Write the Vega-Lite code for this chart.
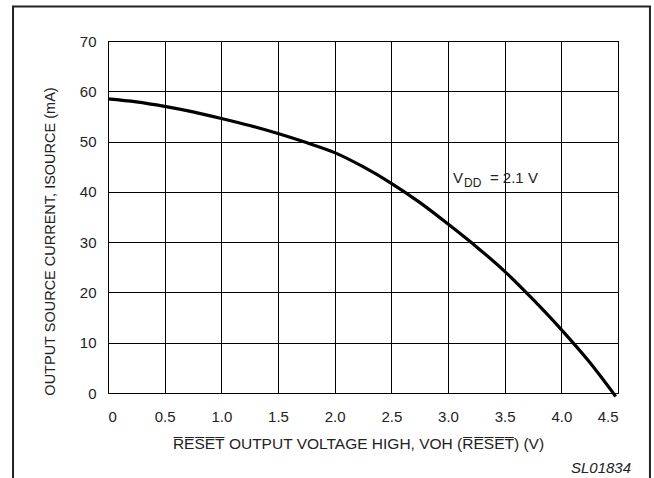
{
  "$schema": "https://vega.github.io/schema/vega-lite/v6.json",
  "autosize": {"type": "none"},
  "width": 510,
  "height": 352,
  "padding": {"left": 108, "top": 41, "right": 36, "bottom": 85},
  "background": "white",
  "config": {
    "font": "Liberation Sans",
    "view": {"stroke": "black", "strokeWidth": 1},
    "axis": {
      "gridColor": "black", "gridOpacity": 1, "gridWidth": 1,
      "domain": false, "ticks": false,
      "labelFont": "Liberation Sans", "labelFontSize": 15, "labelColor": "#222",
      "titleFont": "Liberation Sans", "titleFontSize": 15, "titleFontWeight": "normal", "titleColor": "#222"
    }
  },
  "datasets": {
    "curve": [
      {"v": 0.0, "i": 58.5},
      {"v": 0.25, "i": 57.9},
      {"v": 0.5, "i": 57.0},
      {"v": 0.75, "i": 55.9},
      {"v": 1.0, "i": 54.6},
      {"v": 1.25, "i": 53.2},
      {"v": 1.5, "i": 51.6},
      {"v": 1.75, "i": 49.8},
      {"v": 2.0, "i": 47.8},
      {"v": 2.25, "i": 45.0},
      {"v": 2.5, "i": 41.7},
      {"v": 2.75, "i": 37.9},
      {"v": 3.0, "i": 33.6},
      {"v": 3.25, "i": 29.1},
      {"v": 3.5, "i": 24.2},
      {"v": 3.75, "i": 18.6},
      {"v": 4.0, "i": 12.6},
      {"v": 4.25, "i": 6.1},
      {"v": 4.48, "i": -0.7}
    ],
    "labels": [
      {"v": 3.044, "i": 42.75, "t": "V", "part": "main"},
      {"v": 3.141, "i": 41.76, "t": "DD", "part": "sub"},
      {"v": 3.37, "i": 42.75, "t": "= 2.1 V", "part": "main"}
    ],
    "code": [{"v": 4.615, "i": -14.9, "t": "SL01834"}],
    "frame": [{"x1": -0.838, "x2": 4.782, "y1": 76.86, "y2": -20}]
  },
  "layer": [
    {
      "data": {"name": "frame"},
      "mark": {"type": "rect", "fill": null, "stroke": "#222", "strokeWidth": 2, "clip": false},
      "encoding": {
        "x": {"field": "x1", "type": "quantitative", "scale": {"domain": [0, 4.5], "nice": false, "zero": false},
          "axis": {
            "values": [0, 0.5, 1, 1.5, 2, 2.5, 3, 3.5, 4, 4.5],
            "labelExpr": "datum.value == 0 ? '0' : format(datum.value, '.1f')",
            "labelPadding": 16, "titlePadding": 12, "titleFontSize": 15.5, "titleX": 250,
            "title": "R̅E̅S̅E̅T̅ OUTPUT VOLTAGE HIGH, VOH (R̅E̅S̅E̅T̅) (V)"
          }},
        "x2": {"field": "x2"},
        "y": {"field": "y1", "type": "quantitative", "scale": {"domain": [0, 70], "nice": false, "zero": false},
          "axis": {
            "values": [0, 10, 20, 30, 40, 50, 60, 70],
            "labelPadding": 12, "titlePadding": 22, "titleY": 200, "titleFontSize": 14.5,
            "title": "OUTPUT SOURCE CURRENT, ISOURCE (mA)"
          }},
        "y2": {"field": "y2"}
      }
    },
    {
      "data": {"name": "curve"},
      "mark": {"type": "line", "color": "black", "strokeWidth": 3.2, "interpolate": "monotone", "clip": false},
      "encoding": {
        "x": {"field": "v", "type": "quantitative"},
        "y": {"field": "i", "type": "quantitative"}
      }
    },
    {
      "data": {"name": "labels"},
      "mark": {"type": "text", "align": "left", "baseline": "middle", "font": "Liberation Sans", "color": "#222"},
      "encoding": {
        "x": {"field": "v", "type": "quantitative"},
        "y": {"field": "i", "type": "quantitative"},
        "text": {"field": "t"},
        "size": {"field": "part", "type": "nominal", "scale": {"domain": ["main", "sub"], "range": [15, 12]}, "legend": null}
      }
    },
    {
      "data": {"name": "code"},
      "mark": {"type": "text", "align": "right", "baseline": "middle", "font": "Liberation Sans", "fontStyle": "italic", "fontSize": 15, "color": "#222", "clip": false},
      "encoding": {
        "x": {"field": "v", "type": "quantitative"},
        "y": {"field": "i", "type": "quantitative"},
        "text": {"field": "t"}
      }
    }
  ]
}
